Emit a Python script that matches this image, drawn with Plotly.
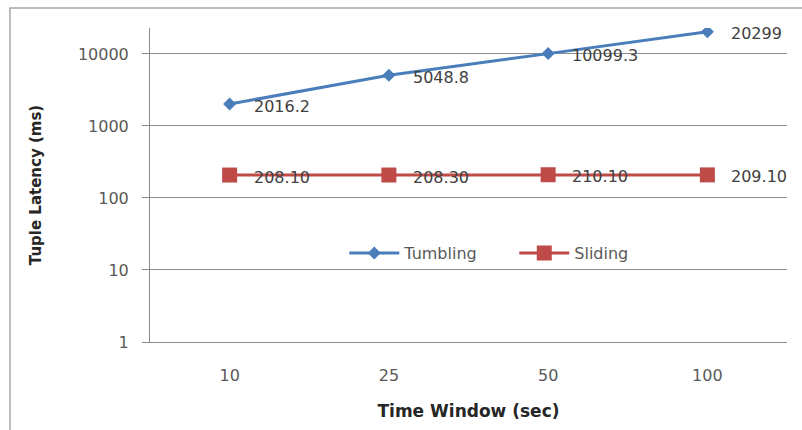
import math
import plotly.graph_objects as go

windows = ["10", "25", "50", "100"]
tumbling = [2016.2, 5048.8, 10099.3, 20299]
sliding = [208.10, 208.30, 210.10, 209.10]
tumbling_labels = ["2016.2", "5048.8", "10099.3", "20299"]
sliding_labels = ["208.10", "208.30", "210.10", "209.10"]
y_ticks = [1, 10, 100, 1000, 10000]
y_tick_text = ["1", "10", "100", "1000", "10000"]

BLUE = "#4a7ebb"
RED = "#be4b48"
GRID = "#8c8c8c"
FONT = "DejaVu Sans"

fig = go.Figure()
fig.add_trace(go.Scatter(
    x=windows, y=tumbling, name="Tumbling", mode="lines+markers",
    line=dict(color=BLUE, width=3),
    marker=dict(symbol="diamond", size=10, color=BLUE),
))
fig.add_trace(go.Scatter(
    x=windows, y=sliding, name="Sliding", mode="lines+markers",
    line=dict(color=RED, width=3),
    marker=dict(symbol="square", size=15, color=RED),
))

annotations = []
for series, labels in ((tumbling, tumbling_labels), (sliding, sliding_labels)):
    for i, (v, t) in enumerate(zip(series, labels)):
        annotations.append(dict(
            x=i, y=math.log10(v), xref="x", yref="y", text=t,
            showarrow=False, xanchor="left", yanchor="middle",
            xshift=22, yshift=-2,
            font=dict(family=FONT, size=16, color="#404040"),
        ))

fig.update_layout(
    width=802, height=430,
    margin=dict(l=150, r=15, t=28, b=88, autoexpand=False),
    paper_bgcolor="white", plot_bgcolor="white",
    font=dict(family=FONT, size=16, color="#595959"),
    showlegend=True,
    legend=dict(
        orientation="h", x=0.305, y=0.283, xanchor="left", yanchor="middle",
        bgcolor="rgba(0,0,0,0)", font=dict(family=FONT, size=16, color="#595959"),
        itemwidth=50, entrywidth=105, entrywidthmode="pixels", tracegroupgap=0,
    ),
    annotations=annotations,
    shapes=[dict(
        type="rect", xref="paper", yref="paper",
        x0=-0.2198, x1=1.2, y0=-0.5, y1=1.0637,
        line=dict(color="#a6a6a6", width=1.5), fillcolor="rgba(0,0,0,0)",
        layer="below",
    )],
)

fig.update_yaxes(
    type="log", range=[0, 4.36],
    tickvals=y_ticks, ticktext=y_tick_text,
    showgrid=True, gridcolor=GRID, gridwidth=1,
    showline=True, linecolor=GRID, linewidth=1,
    ticks="outside", ticklen=7, tickcolor=GRID,
    ticklabelstandoff=10,
    zeroline=False,
    tickfont=dict(family=FONT, size=16, color="#595959"),
    title=dict(text="Tuple Latency (ms)", standoff=32,
               font=dict(family=FONT, size=15, color="#262626", weight="bold")),
)
fig.update_xaxes(
    type="category", range=[-0.5, 3.5],
    showgrid=False, showline=True, linecolor=GRID, linewidth=1,
    ticks="", ticklabelstandoff=19,
    tickfont=dict(family=FONT, size=16, color="#595959"),
    title=dict(text="Time Window (sec)", standoff=20,
               font=dict(family=FONT, size=17, color="#262626", weight="bold")),
)

fig.write_html("out.html", config={"displayModeBar": False},
               post_script="document.body.style.margin='0';")
